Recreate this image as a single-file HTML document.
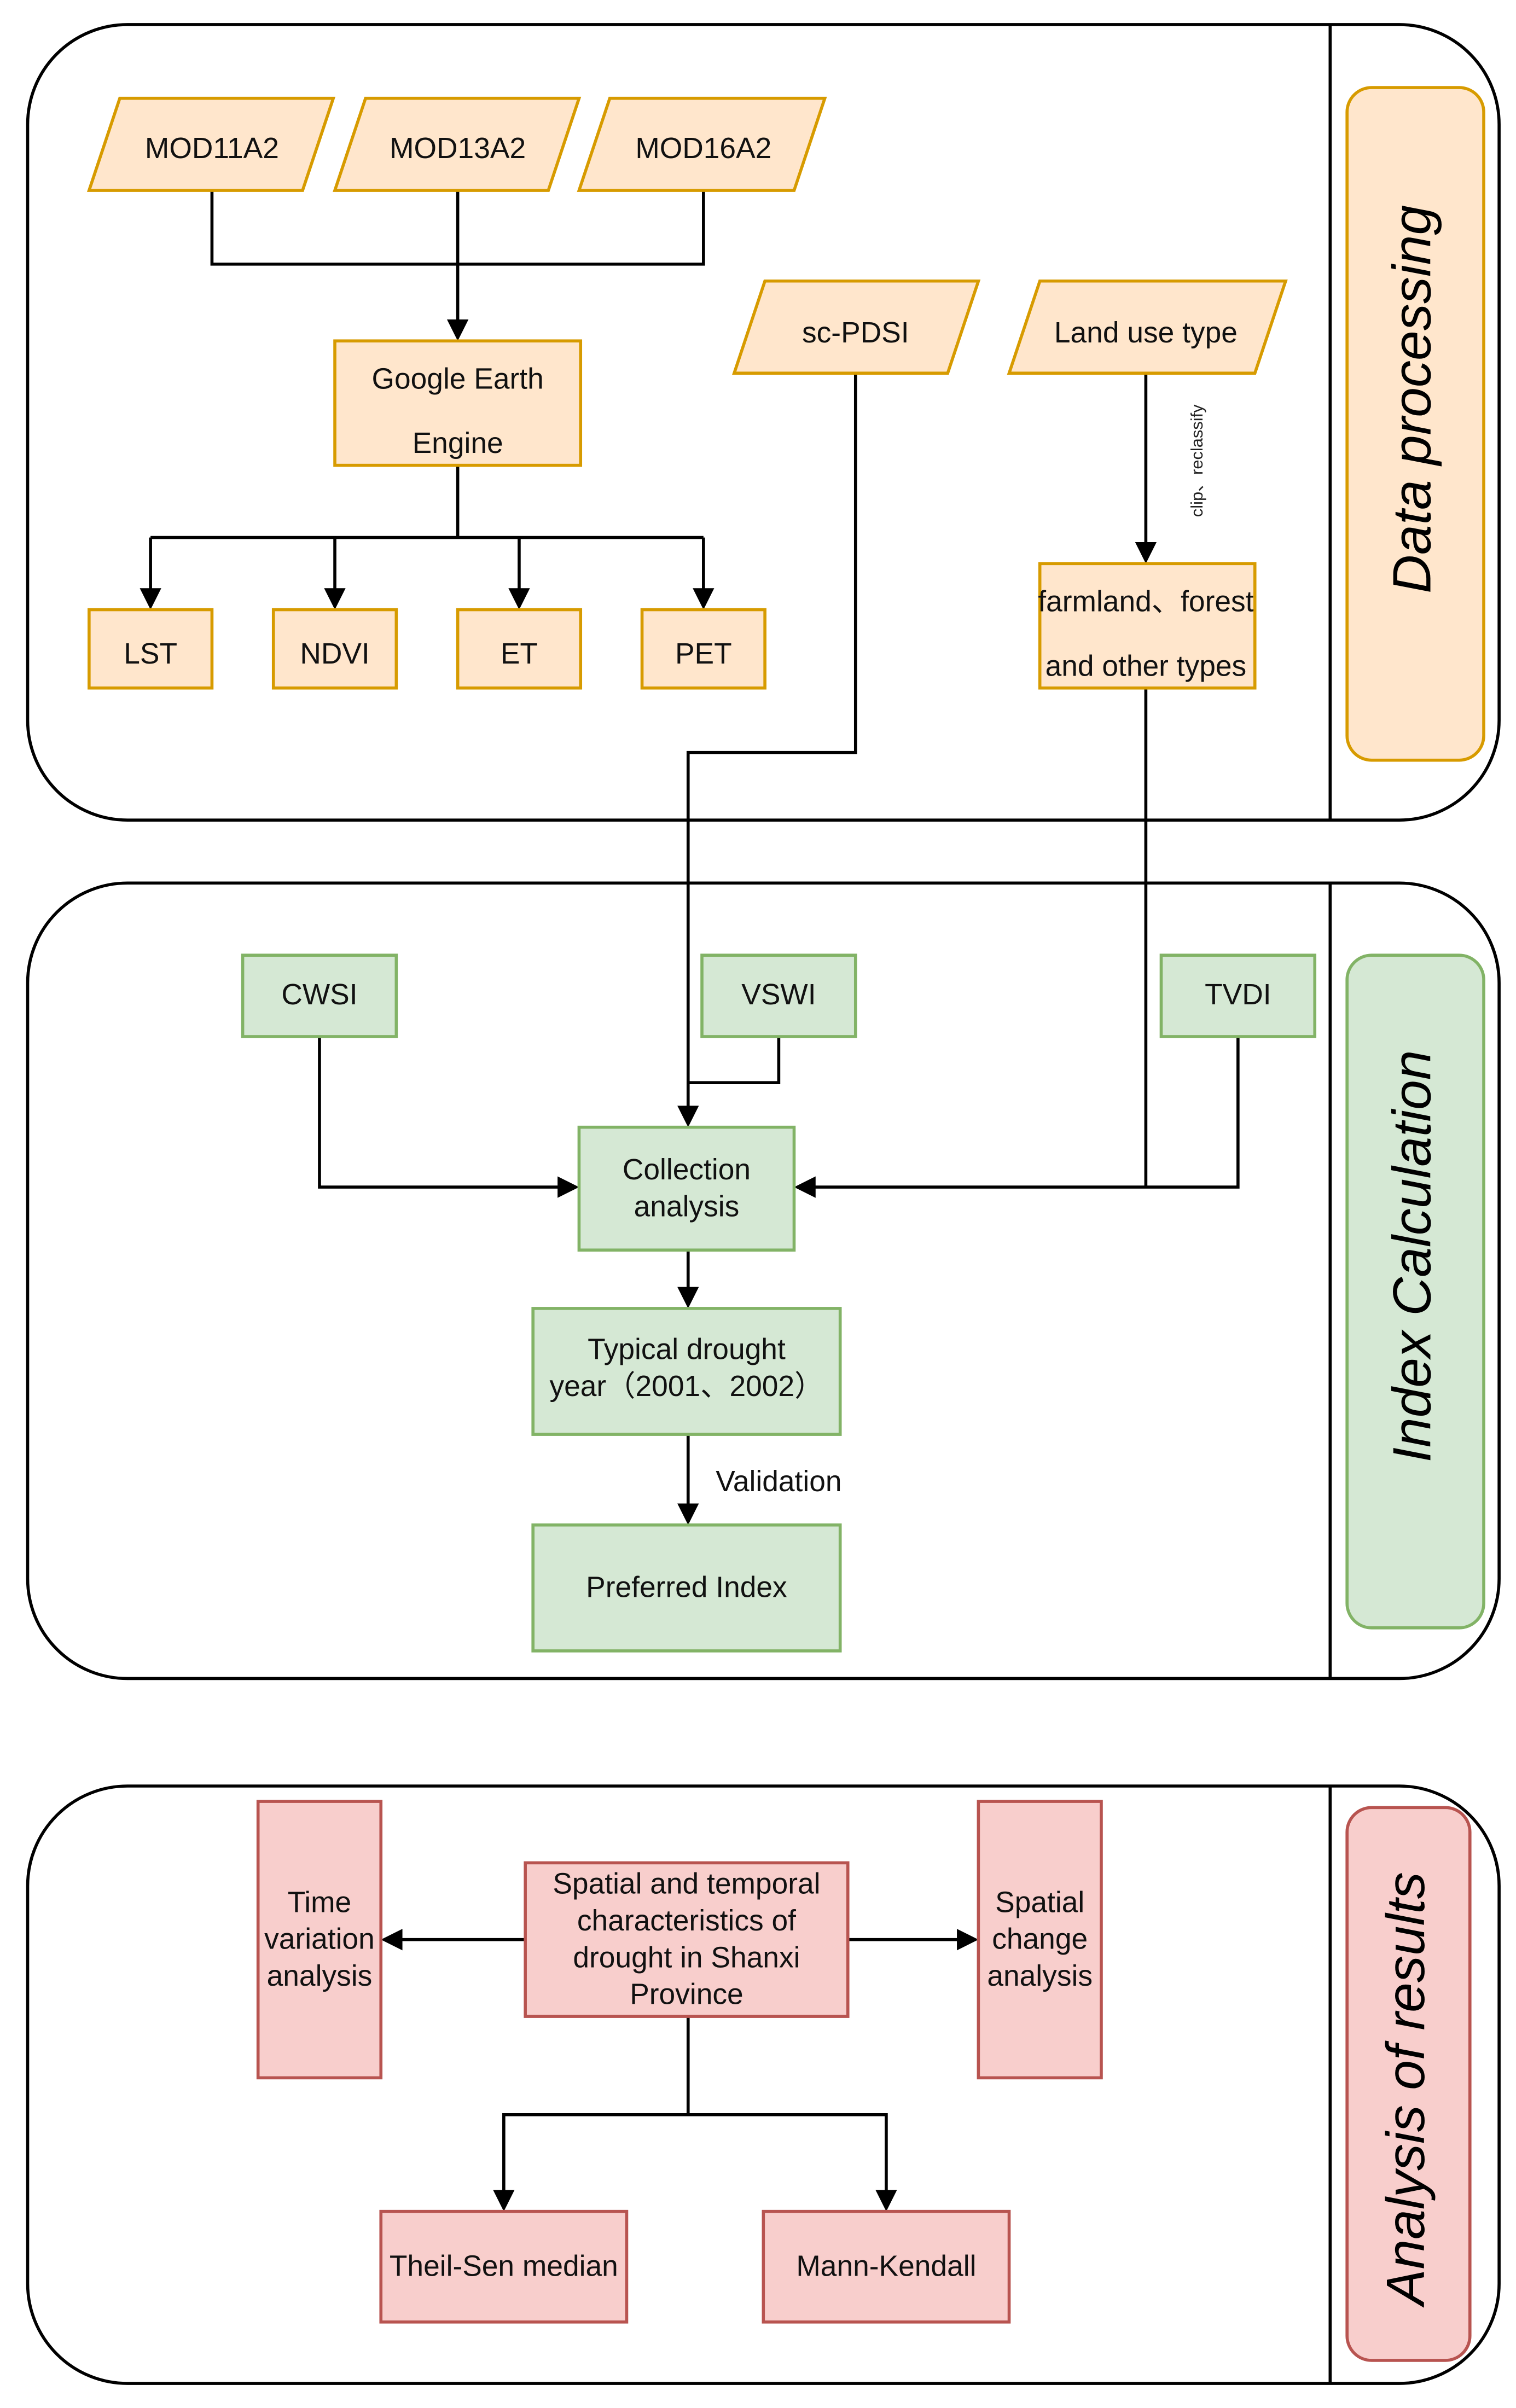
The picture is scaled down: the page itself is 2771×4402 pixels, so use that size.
<!DOCTYPE html>
<html><head><meta charset="utf-8"><style>html,body{margin:0;padding:0;background:#fff}svg{display:block}</style></head>
<body>
<svg width="2771" height="4402" viewBox="0 0 987 1568" preserveAspectRatio="none" xmlns="http://www.w3.org/2000/svg" font-family="Liberation Sans, Arial, sans-serif">
<style>
.o{fill:#ffe6cc;stroke:#d79b00;stroke-width:2}
.g{fill:#d5e8d4;stroke:#82b366;stroke-width:2}
.p{fill:#f8cecc;stroke:#b85450;stroke-width:2}
.l{fill:none;stroke:#000;stroke-width:2}
.t{font-size:19px;fill:#111;text-anchor:middle;dominant-baseline:middle}
.big{font-size:35px;font-style:italic;fill:#000;text-anchor:middle;dominant-baseline:middle}
.ah{fill:#000}
</style>

<!-- Panels -->
<rect x="18" y="16" width="958" height="518" rx="65" fill="#fff" stroke="#000" stroke-width="2"/>
<line x1="866" y1="16" x2="866" y2="534" stroke="#000" stroke-width="2"/>
<rect x="877" y="57" width="89" height="438" rx="16" class="o"/>
<text class="big" transform="translate(922,260) rotate(-90)">Data processing</text>

<rect x="18" y="575" width="958" height="518" rx="65" fill="#fff" stroke="#000" stroke-width="2"/>
<line x1="866" y1="575" x2="866" y2="1093" stroke="#000" stroke-width="2"/>
<rect x="877" y="622" width="89" height="438" rx="16" class="g"/>
<text class="big" transform="translate(922,818) rotate(-90)">Index Calculation</text>

<rect x="18" y="1163" width="958" height="389" rx="65" fill="#fff" stroke="#000" stroke-width="2"/>
<line x1="866" y1="1163" x2="866" y2="1552" stroke="#000" stroke-width="2"/>
<rect x="877" y="1177" width="80" height="360" rx="16" class="p"/>
<text class="big" transform="translate(918,1360) rotate(-90)">Analysis of results</text>

<!-- Panel 1 connectors -->
<polyline class="l" points="138,124 138,172 458,172 458,124"/>
<line class="l" x1="298" y1="124" x2="298" y2="210"/>
<polygon class="ah" points="291,208 305,208 298,222"/>
<polyline class="l" points="298,303 298,350"/>
<line class="l" x1="98" y1="350" x2="458" y2="350"/>
<g>
<line class="l" x1="98" y1="350" x2="98" y2="385"/><polygon class="ah" points="91,383 105,383 98,397"/>
<line class="l" x1="218" y1="350" x2="218" y2="385"/><polygon class="ah" points="211,383 225,383 218,397"/>
<line class="l" x1="338" y1="350" x2="338" y2="385"/><polygon class="ah" points="331,383 345,383 338,397"/>
<line class="l" x1="458" y1="350" x2="458" y2="385"/><polygon class="ah" points="451,383 465,383 458,397"/>
</g>
<line class="l" x1="746" y1="243" x2="746" y2="355"/><polygon class="ah" points="739,353 753,353 746,367"/>
<text transform="translate(780,300) rotate(-90)" font-size="11" fill="#222" text-anchor="middle" dominant-baseline="middle" style="font-family:'Liberation Sans','Noto Sans CJK SC',sans-serif">clip、reclassify</text>
<polyline class="l" points="557,243 557,490 448,490 448,722"/>
<polygon class="ah" points="441,720 455,720 448,734"/>
<polyline class="l" points="746,448 746,773"/>

<!-- Panel 1 nodes -->
<polygon class="o" points="78,64 217,64 197,124 58,124"/><text class="t" x="138" y="98">MOD11A2</text>
<polygon class="o" points="238,64 377,64 357,124 218,124"/><text class="t" x="298" y="98">MOD13A2</text>
<polygon class="o" points="397,64 537,64 517,124 377,124"/><text class="t" x="458" y="98">MOD16A2</text>
<rect class="o" x="218" y="222" width="160" height="81"/>
<text class="t" x="298" y="248">Google Earth</text><text class="t" x="298" y="290">Engine</text>
<rect class="o" x="58" y="397" width="80" height="51"/><text class="t" x="98" y="427">LST</text>
<rect class="o" x="178" y="397" width="80" height="51"/><text class="t" x="218" y="427">NDVI</text>
<rect class="o" x="298" y="397" width="80" height="51"/><text class="t" x="338" y="427">ET</text>
<rect class="o" x="418" y="397" width="80" height="51"/><text class="t" x="458" y="427">PET</text>
<polygon class="o" points="498,183 637,183 617,243 478,243"/><text class="t" x="557" y="218">sc-PDSI</text>
<polygon class="o" points="677,183 837,183 817,243 657,243"/><text class="t" x="746" y="218">Land use type</text>
<rect class="o" x="677" y="367" width="140" height="81"/>
<text class="t" x="746" y="393" font-size="17" style="font-family:'Liberation Sans','Noto Sans CJK SC',sans-serif">farmland、forest</text>
<text class="t" x="746" y="435" font-size="17">and other types</text>

<!-- Panel 2 connectors -->
<polyline class="l" points="208,675 208,773 365,773"/><polygon class="ah" points="363,766 363,780 377,773"/>
<polyline class="l" points="507,675 507,705 448,705"/>
<polyline class="l" points="806,675 806,773 529,773"/><polygon class="ah" points="531,766 531,780 517,773"/>
<line class="l" x1="448" y1="814" x2="448" y2="840"/><polygon class="ah" points="441,838 455,838 448,852"/>
<line class="l" x1="448" y1="934" x2="448" y2="981"/><polygon class="ah" points="441,979 455,979 448,993"/>
<text class="t" x="507" y="966">Validation</text>

<!-- Panel 2 nodes -->
<rect class="g" x="158" y="622" width="100" height="53"/><text class="t" x="208" y="649">CWSI</text>
<rect class="g" x="457" y="622" width="100" height="53"/><text class="t" x="507" y="649">VSWI</text>
<rect class="g" x="756" y="622" width="100" height="53"/><text class="t" x="806" y="649">TVDI</text>
<rect class="g" x="377" y="734" width="140" height="80"/>
<text class="t" x="447" y="763">Collection</text><text class="t" x="447" y="787">analysis</text>
<rect class="g" x="347" y="852" width="200" height="82"/>
<text class="t" x="447" y="880">Typical drought</text>
<text class="t" x="447" y="904" style="font-family:'Liberation Sans','Noto Sans CJK SC',sans-serif">year（2001、2002）</text>
<rect class="g" x="347" y="993" width="200" height="82"/><text class="t" x="447" y="1035">Preferred Index</text>

<!-- Panel 3 connectors -->
<line class="l" x1="342" y1="1263" x2="260" y2="1263"/><polygon class="ah" points="262,1256 262,1270 248,1263"/>
<line class="l" x1="552" y1="1263" x2="625" y2="1263"/><polygon class="ah" points="623,1256 623,1270 637,1263"/>
<polyline class="l" points="448,1313 448,1377"/>
<polyline class="l" points="328,1428 328,1377 577,1377 577,1428"/>
<polygon class="ah" points="321,1426 335,1426 328,1440"/>
<polygon class="ah" points="570,1426 584,1426 577,1440"/>

<!-- Panel 3 nodes -->
<rect class="p" x="168" y="1173" width="80" height="180"/>
<text class="t" x="208" y="1240">Time</text><text class="t" x="208" y="1264">variation</text><text class="t" x="208" y="1288">analysis</text>
<rect class="p" x="342" y="1213" width="210" height="100"/>
<text class="t" x="447" y="1228">Spatial and temporal</text><text class="t" x="447" y="1252">characteristics of</text>
<text class="t" x="447" y="1276">drought in Shanxi</text><text class="t" x="447" y="1300">Province</text>
<rect class="p" x="637" y="1173" width="80" height="180"/>
<text class="t" x="677" y="1240">Spatial</text><text class="t" x="677" y="1264">change</text><text class="t" x="677" y="1288">analysis</text>
<rect class="p" x="248" y="1440" width="160" height="72"/><text class="t" x="328" y="1477">Theil-Sen median</text>
<rect class="p" x="497" y="1440" width="160" height="72"/><text class="t" x="577" y="1477">Mann-Kendall</text>
</svg>
</body></html>
